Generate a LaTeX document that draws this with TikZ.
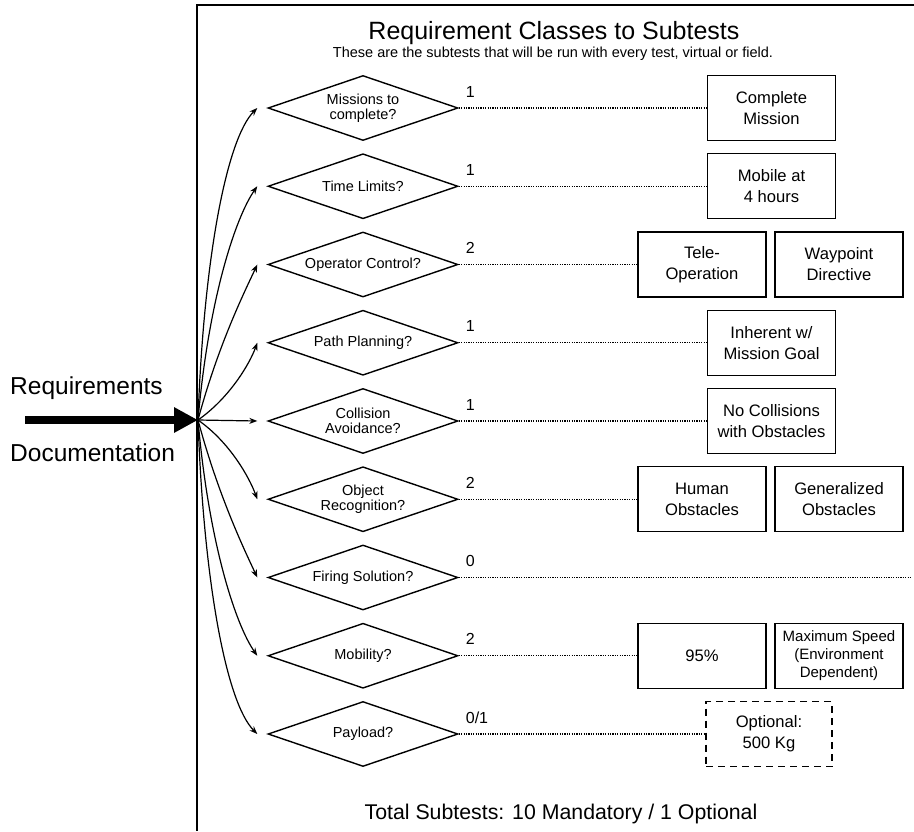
\documentclass[tikz,border=0pt]{standalone}
\usepackage{fontspec}
\setmainfont{Liberation Sans}
\usetikzlibrary{arrows.meta,shapes.geometric}

\newcommand\qfont{\fontsize{14.5}{15}\selectfont}
\newcommand\bfont{\fontsize{16.6}{21}\selectfont}
\newcommand\sfont{\fontsize{15}{18}\selectfont}
\newcommand\cfont{\fontsize{16}{19}\selectfont}

\begin{document}
\begin{tikzpicture}[x=1pt,y=-1pt,
    question/.style={diamond,draw,line width=1.4pt,aspect=2.9,minimum width=190pt,
                     minimum height=65pt,inner sep=0pt,align=center,font=\qfont},
    subtest/.style={draw,line width=1.4pt,minimum width=128pt,minimum height=65pt,
                    inner sep=0pt,align=center,font=\bfont},
    count/.style={anchor=base west,inner sep=0pt,font=\cfont},
    side/.style={anchor=base west,inner sep=0pt,font=\fontsize{24.5}{28}\selectfont},
    link/.style={line width=1.3pt,dash pattern=on 1.2pt off 1.2pt},
    feed/.style={line width=1.2pt,-{Stealth[length=8pt,width=6pt]}}
  ]
  \useasboundingbox (0,0) rectangle (914,831);

  % frame, cut at the right and bottom
  \draw[line width=1.4pt] (914,5) -| (197,831);

  \node[anchor=base,inner sep=0pt,font=\fontsize{25}{30}\selectfont] (title) at (554,39)
    {Requirement Classes to Subtests};
  \node[anchor=base,inner sep=0pt,font=\fontsize{14.5}{17}\selectfont] (sub) at (553,57)
    {These are the subtests that will be run with every test, virtual or field.};
  \node[anchor=base,inner sep=0pt,font=\fontsize{21.3}{25}\selectfont] (total) at (561,819)
    {Total Subtests: 10 Mandatory / 1 Optional};

  % input
  \node[side] (req) at (10,394) {Requirements};
  \node[side] (doc) at (10,461) {Documentation};
  \coordinate (src) at (25,420);
  \coordinate (hub) at (198,420);
  \draw[line width=8pt,-{Triangle[length=24pt,width=24pt]}] (src) -- (hub);

  % requirement classes
  \node[question] (q1) at (363,108) {Missions to\\complete?};
  \node[question] (q2) at (363,186.25) {Time Limits?};
  \node[question] (q3) at (363,264.5) {Operator Control?};
  \node[question] (q4) at (363,342.75) {Path Planning?};
  \node[question] (q5) at (363,421) {Collision\\Avoidance?};
  \node[question] (q6) at (363,499.25) {Object\\Recognition?};
  \node[question] (q7) at (363,577.5) {Firing Solution?};
  \node[question] (q8) at (363,655.75) {Mobility?};
  \node[question] (q9) at (363,734) {Payload?};

  % number of subtests
  \node[count] (n1) at ([xshift=7pt,yshift=11pt]q1.east) {1};
  \node[count] (n2) at ([xshift=7pt,yshift=11pt]q2.east) {1};
  \node[count] (n3) at ([xshift=7pt,yshift=11pt]q3.east) {2};
  \node[count] (n4) at ([xshift=7pt,yshift=11pt]q4.east) {1};
  \node[count] (n5) at ([xshift=7pt,yshift=11pt]q5.east) {1};
  \node[count] (n6) at ([xshift=7pt,yshift=11pt]q6.east) {2};
  \node[count] (n7) at ([xshift=7pt,yshift=11pt]q7.east) {0};
  \node[count] (n8) at ([xshift=7pt,yshift=11pt]q8.east) {2};
  \node[count] (n9) at ([xshift=7pt,yshift=11pt]q9.east) {0/1};

  % subtests
  \node[subtest] (b1) at (771.5,108) {Complete\\Mission};
  \node[subtest] (b2) at (771.5,186.25) {Mobile at\\4 hours};
  \node[subtest] (b3a) at (702,264.5) {Tele-\\Operation};
  \node[subtest] (b3b) at (839,264.5) {Waypoint\\Directive};
  \node[subtest] (b4) at (771.5,342.75) {Inherent w/\\Mission Goal};
  \node[subtest] (b5) at (771.5,421) {No Collisions\\with Obstacles};
  \node[subtest] (b6a) at (702,499.25) {Human\\Obstacles};
  \node[subtest] (b6b) at (839,499.25) {Generalized\\Obstacles};
  \coordinate (fire) at (912,577.5);
  \node[subtest] (b8a) at (702,655.75) {95\%};
  \node[subtest,font=\sfont] (b8b) at (839,655.75) {Maximum Speed\\(Environment\\Dependent)};
  \node[subtest,dash pattern=on 7pt off 5pt,minimum width=126pt] (b9) at (769,734) {Optional:\\500 Kg};

  \path[feed]
   (hub) edge [out=88,in=-135,out looseness=1.3,in looseness=0.35] ([xshift=-10pt]q1.west)
   (hub) edge [out=85,in=-125,out looseness=1.3,in looseness=0.4] ([xshift=-10pt]q2.west)
   (hub) edge [out=75,in=-115,out looseness=1.2,in looseness=0.45] ([xshift=-10pt]q3.west)
   (hub) edge [out=35,in=-110,in looseness=0.6] ([xshift=-10pt]q4.west)
   (hub) edge ([xshift=-10pt]q5.west)
   (hub) edge [out=-35,in=110,in looseness=0.6] ([xshift=-10pt]q6.west)
   (hub) edge [out=-75,in=115,out looseness=1.2,in looseness=0.45] ([xshift=-10pt]q7.west)
   (hub) edge [out=-85,in=125,out looseness=1.3,in looseness=0.4] ([xshift=-10pt]q8.west)
   (hub) edge [out=-88,in=135,out looseness=1.3,in looseness=0.35] ([xshift=-10pt]q9.west);

  \path[link]
   (q1) edge (b1)
   (q2) edge (b2)
   (q3) edge (b3a)
   (q4) edge (b4)
   (q5) edge (b5)
   (q6) edge (b6a)
   (q7.east) edge (fire)
   (q8) edge (b8a)
   (q9) edge (b9);
\end{tikzpicture}
\end{document}
